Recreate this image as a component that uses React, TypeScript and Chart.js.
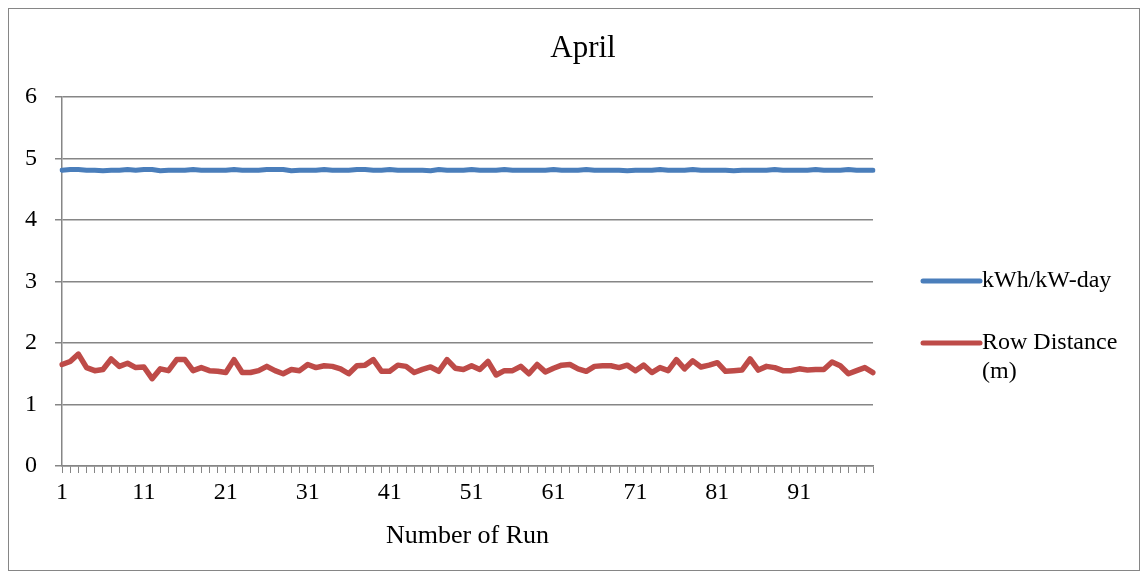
import React, { useEffect, useRef } from "react";
import { Chart, registerables } from "chart.js";

Chart.register(...registerables);

const runs: string[] = Array.from({ length: 100 }, (_, i) => String(i + 1));

const kwhPerKwDay: number[] = [
  4.81, 4.82, 4.82, 4.81, 4.81, 4.8, 4.81, 4.81, 4.82, 4.81,
  4.82, 4.82, 4.8, 4.81, 4.81, 4.81, 4.82, 4.81, 4.81, 4.81,
  4.81, 4.82, 4.81, 4.81, 4.81, 4.82, 4.82, 4.82, 4.8, 4.81,
  4.81, 4.81, 4.82, 4.81, 4.81, 4.81, 4.82, 4.82, 4.81, 4.81,
  4.82, 4.81, 4.81, 4.81, 4.81, 4.8, 4.82, 4.81, 4.81, 4.81,
  4.82, 4.81, 4.81, 4.81, 4.82, 4.81, 4.81, 4.81, 4.81, 4.81,
  4.82, 4.81, 4.81, 4.81, 4.82, 4.81, 4.81, 4.81, 4.81, 4.8,
  4.81, 4.81, 4.81, 4.82, 4.81, 4.81, 4.81, 4.82, 4.81, 4.81,
  4.81, 4.81, 4.8, 4.81, 4.81, 4.81, 4.81, 4.82, 4.81, 4.81,
  4.81, 4.81, 4.82, 4.81, 4.81, 4.81, 4.82, 4.81, 4.81, 4.81,
];

const rowDistance: number[] = [
  1.65, 1.7, 1.82, 1.6, 1.55, 1.57, 1.74, 1.62, 1.67, 1.6,
  1.61, 1.42, 1.58, 1.55, 1.73, 1.73, 1.55, 1.6, 1.55, 1.54,
  1.52, 1.73, 1.52, 1.52, 1.55, 1.62, 1.55, 1.5, 1.57, 1.55,
  1.65, 1.6, 1.63, 1.62, 1.58, 1.5, 1.63, 1.64, 1.73, 1.54,
  1.54, 1.64, 1.62, 1.52, 1.57, 1.61, 1.54, 1.73, 1.59, 1.57,
  1.63, 1.57, 1.7, 1.48, 1.55, 1.55, 1.62, 1.5, 1.65, 1.53,
  1.59, 1.64, 1.65, 1.58, 1.54, 1.62, 1.63, 1.63, 1.6, 1.64,
  1.55, 1.64, 1.52, 1.6, 1.55, 1.73, 1.58, 1.71, 1.61, 1.64,
  1.68, 1.54, 1.55, 1.56, 1.74, 1.56, 1.62, 1.6, 1.55, 1.55,
  1.58, 1.56, 1.57, 1.57, 1.69, 1.63, 1.5, 1.55, 1.6, 1.52,
];

const chartTitle = "April";
const xAxisTitle = "Number of Run";
const legendLabels: string[][] = [["kWh/kW-day"], ["Row Distance", "(m)"]];
const seriesColors: string[] = ["#4A7EBB", "#BE4B48"];

const FONT = "'Liberation Serif', 'Times New Roman', serif";
const GRID = "#868686";

const textPlugin = {
  id: "customText",
  afterDraw(chart: any) {
    const ctx = chart.ctx as CanvasRenderingContext2D;
    const area = chart.chartArea;
    ctx.save();
    ctx.fillStyle = "#000";
    // title
    ctx.font = `31px ${FONT}`;
    ctx.textAlign = "center";
    ctx.textBaseline = "middle";
    ctx.fillText(chartTitle, 574, 40);
    // x axis title
    ctx.font = `26px ${FONT}`;
    ctx.fillText(xAxisTitle, (area.left + area.right) / 2, 527);
    // legend
    const ys = [272, 334];
    legendLabels.forEach((lines, i) => {
      const y = ys[i];
      ctx.strokeStyle = seriesColors[i];
      ctx.lineWidth = 5;
      ctx.lineCap = "round";
      ctx.beginPath();
      ctx.moveTo(914, y);
      ctx.lineTo(971, y);
      ctx.stroke();
      ctx.textAlign = "left";
      ctx.font = `24px ${FONT}`;
      lines.forEach((ln, j) => {
        ctx.fillText(ln, 973, y + j * 29);
      });
    });
    ctx.restore();
  },
};

export default function App() {
  const canvasRef = useRef<HTMLCanvasElement | null>(null);

  useEffect(() => {
    if (!canvasRef.current) return;
    const chart = new Chart(canvasRef.current, {
      type: "line",
      data: {
        labels: runs,
        datasets: [
          {
            label: legendLabels[0].join(" "),
            data: kwhPerKwDay,
            borderColor: seriesColors[0],
            backgroundColor: seriesColors[0],
            borderWidth: 5,
            pointRadius: 0,
            tension: 0,
            borderCapStyle: "round",
            borderJoinStyle: "round",
          },
          {
            label: legendLabels[1].join(" "),
            data: rowDistance,
            borderColor: seriesColors[1],
            backgroundColor: seriesColors[1],
            borderWidth: 5.5,
            pointRadius: 0,
            tension: 0,
            borderCapStyle: "round",
            borderJoinStyle: "round",
          },
        ],
      },
      options: {
        animation: false,
        responsive: false,
        maintainAspectRatio: false,
        layout: { padding: { left: 0, right: 266, top: 88, bottom: 0 } },
        plugins: {
          legend: { display: false },
          title: { display: false },
          tooltip: { enabled: false },
        },
        scales: {
          x: {
            type: "category",
            offset: false,
            afterFit(scale: any) {
              scale.height = 104;
            },
            grid: {
              display: true,
              drawOnChartArea: false,
              drawTicks: true,
              tickLength: 7,
              color: GRID,
              lineWidth: 1,
            },
            border: { display: true, color: GRID, width: 1.5 },
            ticks: {
              autoSkip: false,
              maxRotation: 0,
              minRotation: 0,
              padding: 5,
              color: "#000",
              font: { family: FONT, size: 24 },
              callback: (_v: any, i: number) => (i % 10 === 0 ? runs[i] : ""),
            },
          },
          y: {
            min: 0,
            max: 6,
            afterFit(scale: any) {
              scale.width = 53;
            },
            grid: {
              color: GRID,
              lineWidth: 1.5,
              drawTicks: true,
              tickLength: 7,
            },
            border: { display: true, color: GRID, width: 1.5 },
            ticks: {
              stepSize: 1,
              padding: 18,
              color: "#000",
              font: { family: FONT, size: 24 },
            },
          },
        },
      },
      plugins: [textPlugin],
    });
    return () => chart.destroy();
  }, []);

  return (
    <div
      style={{
        width: 1132,
        height: 563,
        border: "1px solid #868686",
        boxSizing: "border-box",
        background: "#fff",
      }}
    >
      <canvas ref={canvasRef} width={1130} height={561} style={{ display: "block" }} />
    </div>
  );
}
